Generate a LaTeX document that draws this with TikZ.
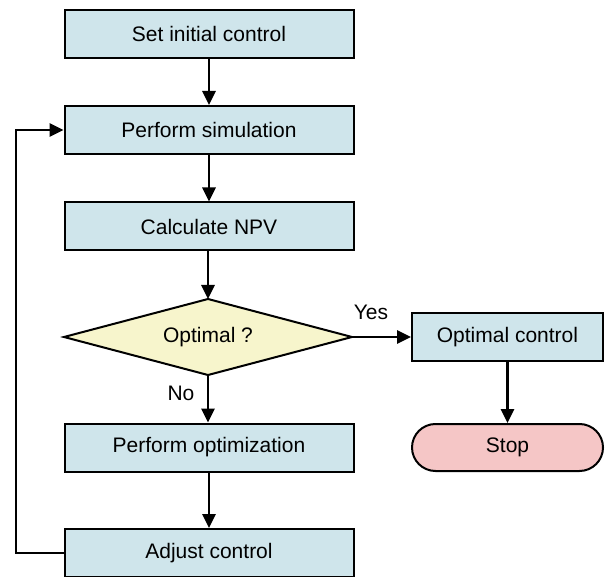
\documentclass[tikz,border=0pt]{standalone}
\usepackage{fontspec}
\setmainfont{Liberation Sans}
\usetikzlibrary{shapes.geometric,arrows.meta}
\definecolor{boxblue}{HTML}{CFE5EB}
\definecolor{diayellow}{HTML}{F7F5CC}
\definecolor{stoppink}{HTML}{F5C6C6}
\begin{document}
\begin{tikzpicture}[x=1pt,y=-1pt,
  every node/.style={font=\fontsize{21}{25}\selectfont},
  procbox/.style={draw=black,line width=2pt,fill=boxblue,minimum width=289pt,minimum height=48pt,inner sep=0pt},
  decbox/.style={draw=black,line width=2pt,fill=diayellow},
  stopbox/.style={draw=black,line width=2pt,fill=stoppink,rounded corners=23.5pt,minimum width=191pt,minimum height=47pt,inner sep=0pt},
  conn/.style={line width=2.8pt,-{Triangle[length=14pt,width=13pt]}},
  lbl/.style={inner sep=0pt}]
\useasboundingbox (0,0) rectangle (605,577);
\node[procbox] (init) at (209,34) {Set initial control};
\node[procbox] (sim) at (209,130) {Perform simulation};
\node[procbox] (npv) at (209,226.5) {Calculate NPV};
\coordinate (optN) at (208,299);
\coordinate (optE) at (352,337);
\coordinate (optS) at (208,375);
\coordinate (optW) at (64,337);
\path[decbox] (optN) -- (optE) -- (optS) -- (optW) -- cycle;
\node[lbl] (opt) at (208,337) {Optimal ?};
\node[procbox,minimum width=191pt] (oc) at (507.5,337) {Optimal control};
\node[stopbox] (stop) at (507.5,447.5) {Stop};
\node[procbox] (popt) at (209,447.5) {Perform optimization};
\node[procbox] (adj) at (209,553) {Adjust control};
\coordinate (lb) at (16,553);
\coordinate (lt) at (16,130);
\node[lbl] (yes) at (371,312) {Yes};
\node[lbl] (no) at (181,393) {No};
\draw[conn] (init) -- (sim);
\draw[conn] (sim) -- (npv);
\draw[conn] (npv.south -| optN) -- (optN);
\draw[conn] (optE) -- (oc.west);
\draw[conn] (optS) -- (popt.north -| optS);
\draw[conn] (oc) -- (stop);
\draw[conn] (popt) -- (adj);
\draw[conn] (adj.west) -- (lb) -- (lt) -- (sim.west);
\end{tikzpicture}
\end{document}
